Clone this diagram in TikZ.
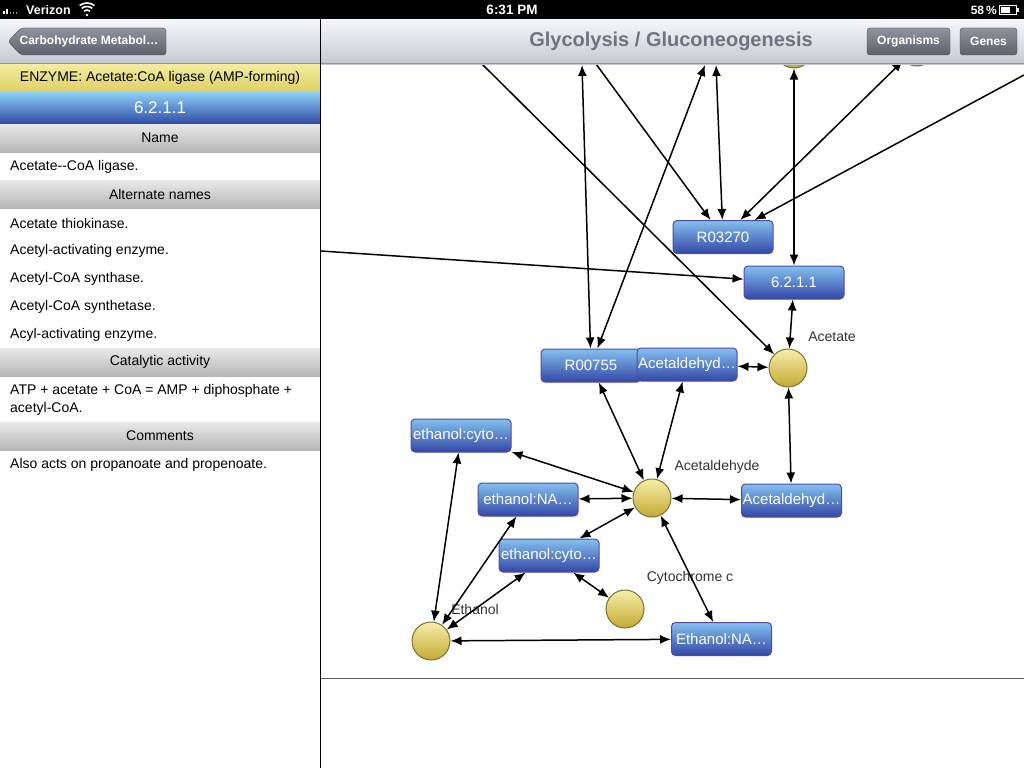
\documentclass[tikz,border=0pt]{standalone}
\usepackage{fontspec}
\setmainfont{Liberation Sans}
\usepackage{xcolor}
\usetikzlibrary{arrows.meta}

\definecolor{navtop}{HTML}{F5F6F8}
\definecolor{navbot}{HTML}{C4C9D1}
\definecolor{navline}{HTML}{8C929C}
\definecolor{btntop}{HTML}{8F959E}
\definecolor{btnbot}{HTML}{5B6069}
\definecolor{btnline}{HTML}{474B52}
\definecolor{titlegray}{HTML}{6D7380}
\definecolor{enztop}{HTML}{F4EC9F}
\definecolor{enzbot}{HTML}{DDCF66}
\definecolor{ectop}{HTML}{8DD0F6}
\definecolor{ecbot}{HTML}{2F4AA6}
\definecolor{hdrtop}{HTML}{E9E9E9}
\definecolor{hdrbot}{HTML}{B6B6B6}
\definecolor{boxtop}{HTML}{84C0EF}
\definecolor{boxbot}{HTML}{3447A6}
\definecolor{boxline}{HTML}{5447A8}
\definecolor{cpdtop}{HTML}{F7EEA8}
\definecolor{cpdbot}{HTML}{C2AA35}
\definecolor{cpdline}{HTML}{7D7030}

\newcommand{\fsz}[1]{\fontsize{#1}{#1}\selectfont}

\begin{document}
\begin{tikzpicture}[x=1pt,y=-1pt,
    every node/.style={inner sep=0pt},
    rxn/.style={rectangle,rounded corners=4pt,draw=boxline,line width=1pt,
      top color=boxtop,bottom color=boxbot,text=white,
      minimum width=100pt,minimum height=33pt,font=\fsz{15}},
    cpd/.style={circle,draw=cpdline,line width=1pt,
      top color=cpdtop,bottom color=cpdbot,minimum size=38pt},
    cpdname/.style={text=black!80,font=\fsz{14}},
    link/.style={{Latex[length=11pt,width=9pt]}-{Latex[length=11pt,width=9pt]},line width=1.5pt},
    onelink/.style={-{Latex[length=11pt,width=9pt]},line width=1.5pt},
    hdr/.style={rectangle,minimum width=320pt,minimum height=28pt,
      top color=hdrtop,bottom color=hdrbot,font=\fsz{14}},
    item/.style={anchor=west,font=\fsz{14}},
    navbtn/.style={rectangle,rounded corners=3pt,draw=btnline,
      top color=btntop,bottom color=btnbot,text=white,
      minimum height=27pt,font=\bfseries\fsz{12}}]

  \useasboundingbox (0,0) rectangle (1024,768);
  \fill[white] (0,0) rectangle (1024,768);

  % graph
  \begin{scope}
    \clip (321,20) rectangle (1024,678);

    \node[cpd] (topcpd1) at (794,49) {};
    \node[cpd] (topcpd2) at (917,47) {};

    \node[rxn] (r03270) at (723,237) {R03270};
    \node[rxn] (ec) at (794,282.5) {6.2.1.1};
    \node[rxn] (r00755) at (591,365.5) {R00755};
    \node[rxn] (ald1) at (687,364.5) {Acetaldehyd…};

    \node[cpd] (acetate) at (788,368) {};
    \node[cpdname] (acetatelbl) at (832,337) {Acetate};

    \node[rxn] (ethcyto1) at (461,435.5) {ethanol:cyto…};

    \node[cpd] (acald) at (652,498) {};
    \node[cpdname] (acaldlbl) at (717,467) {Acetaldehyde};

    \node[rxn] (ethnad1) at (528,499.5) {ethanol:NA…};
    \node[rxn] (ald2) at (791.5,500.5) {Acetaldehyd…};
    \node[rxn] (ethcyto2) at (549,555.5) {ethanol:cyto…};

    \node[cpd] (cytc) at (625,609) {};
    \node[cpdname] (cytclbl) at (690,578) {Cytochrome c};

    \node[cpd] (ethanol) at (431,641) {};
    \node[cpdname] (ethanollbl) at (475,609) {Ethanol};

    \node[rxn] (ethnad2) at (721.5,639) {Ethanol:NA…};

    % ends off screen
    \coordinate (upA) at (582,65);
    \coordinate (upB) at (596,64);
    \coordinate (upC) at (705,65);
    \coordinate (upD) at (716,65);
    \coordinate (upE) at (482,64);
    \coordinate (rightG) at (1024,75);
    \coordinate (leftH) at (321,251);

    \draw[link] (upA) -- (r00755);
    \draw[onelink] (upB) -- (r03270);
    \draw[link] (upC) -- (r00755);
    \draw[link] (upD) -- (r03270);
    \draw[onelink] (upE) -- (acetate);
    \draw[link] (topcpd1) -- (ec);
    \draw[link] (topcpd2) -- (r03270);
    \draw[onelink] (rightG) -- (r03270);
    \draw[onelink] (leftH) -- (ec);

    \draw[link] (ec) -- (acetate);
    \draw[link] (ald1) -- (acetate);
    \draw[link] (acetate) -- (ald2);
    \draw[link] (r00755) -- (acald);
    \draw[link] (ald1) -- (acald);
    \draw[link] (ethcyto1) -- (acald);
    \draw[link] (ethnad1) -- (acald);
    \draw[link] (acald) -- (ald2);
    \draw[link] (acald) -- (ethcyto2);
    \draw[link] (acald) -- (ethnad2);
    \draw[link] (ethcyto1) -- (ethanol);
    \draw[link] (ethnad1) -- (ethanol);
    \draw[link] (ethcyto2) -- (ethanol);
    \draw[link] (ethcyto2) -- (cytc);
    \draw[link] (ethanol) -- (ethnad2);
  \end{scope}

  \draw[gray!70!black,line width=1pt] (321,678) -- (1024,678);

  % status bar
  \fill[black] (0,0) rectangle (1024,20);
  \fill[white] (3,11) rectangle (5,14);
  \fill[white] (6,9) rectangle (8,14);
  \fill[white!60!black] (9.5,12.5) rectangle (11,14);
  \fill[white!60!black] (12.5,12.5) rectangle (14,14);
  \fill[white!60!black] (15.5,12.5) rectangle (17,14);
  \node[anchor=west,text=white,font=\bfseries\fsz{12.5}] (carrier) at (26,10) {Verizon};
  \fill[white] (87,15) circle (1.4);
  \draw[white,line width=1.6pt] (87,15) ++(232:5) arc[start angle=232,end angle=308,radius=5];
  \draw[white,line width=1.6pt] (87,15) ++(232:8.5) arc[start angle=232,end angle=308,radius=8.5];
  \draw[white,line width=1.6pt] (87,15) ++(232:12) arc[start angle=232,end angle=308,radius=12];
  \node[text=white,font=\bfseries\fsz{13.5}] (clock) at (512,10) {6:31 PM};
  \node[anchor=east,text=white,font=\bfseries\fsz{12}] (charge) at (997,10) {58\,\%};
  \draw[white,line width=1pt] (999.5,5.5) rectangle (1016.5,14.5);
  \fill[white] (1001,7) rectangle (1010,13);
  \fill[white] (1017,8) rectangle (1019,12);

  % navigation bars
  \shade[top color=navtop,bottom color=navbot] (0,20) rectangle (320,64);
  \shade[top color=navtop,bottom color=navbot] (321,20) rectangle (1024,64);
  \draw[navline] (0,63.5) -- (1024,63.5);
  \draw[btnline,top color=btntop,bottom color=btnbot,rounded corners=3pt]
    (8,41.5) -- (21,28) -- (166,28) -- (166,55) -- (21,55) -- cycle;
  \node[text=white,font=\bfseries\fsz{12}] (back) at (89,41.5) {Carbohydrate Metabol…};
  \node[text=titlegray,font=\bfseries\fsz{20}] (title) at (671,41.5) {Glycolysis / Gluconeogenesis};
  \node[navbtn,minimum width=83pt] (organisms) at (908.5,41.5) {Organisms};
  \node[navbtn,minimum width=57pt] (genes) at (988.5,41.5) {Genes};

  % enzyme panel
  \node[rectangle,minimum width=320pt,minimum height=28pt,top color=enztop,bottom color=enzbot,
    font=\fsz{14}] (enzyme) at (160,78) {ENZYME: Acetate:CoA ligase (AMP-forming)};
  \node[rectangle,minimum width=320pt,minimum height=32pt,top color=ectop,bottom color=ecbot,
    text=white,font=\fsz{17}] (ecnum) at (160,108) {6.2.1.1};

  \node[hdr] (hname) at (160,138) {Name};
  \node[item] (name) at (10,167) {Acetate-{}-CoA ligase.};
  \node[hdr] (halt) at (160,194) {Alternate names};
  \node[item] (alt1) at (10,223) {Acetate thiokinase.};
  \node[item] (alt2) at (10,251) {Acetyl-activating enzyme.};
  \node[item] (alt3) at (10,279) {Acetyl-CoA synthase.};
  \node[item] (alt4) at (10,307) {Acetyl-CoA synthetase.};
  \node[item] (alt5) at (10,335) {Acyl-activating enzyme.};
  \node[hdr] (hcat) at (160,362) {Catalytic activity};
  \node[item] (cat1) at (10,391) {ATP + acetate + CoA = AMP + diphosphate +};
  \node[item] (cat2) at (10,409) {acetyl-CoA.};
  \node[hdr] (hcom) at (160,436) {Comments};
  \node[item] (com) at (10,465) {Also acts on propanoate and propenoate.};

  \draw[black,line width=1.2pt] (320.4,20) -- (320.4,768);
\end{tikzpicture}
\end{document}
